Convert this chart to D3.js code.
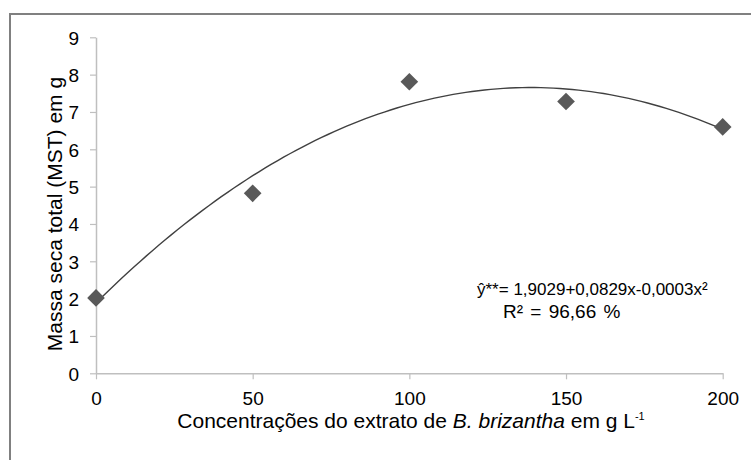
<!DOCTYPE html>
<html>
<head>
<meta charset="utf-8">
<script src="https://cdn.jsdelivr.net/npm/d3@7"></script>
<style>
  body { margin: 0; background: #fff; }
  text { font-family: "Liberation Sans", Arial, sans-serif; fill: #000; }
</style>
</head>
<body>
<svg id="chart" width="751" height="460"></svg>
<script>
// concentrations (g L-1) and total dry mass (g)
const concentrations = [0, 50, 100, 150, 200];
const massaSeca = [2.02, 4.82, 7.81, 7.28, 6.6];
const xTicks = [0, 50, 100, 150, 200];
const yTicks = [0, 1, 2, 3, 4, 5, 6, 7, 8, 9];
const equationText = "ŷ**= 1,9029+0,0829x-0,0003x²";
const r2Text = "R² = 96,66 %";

const svg = d3.select("#chart");

// outer chart frame (goes off the picture on the right and bottom)
svg.append("rect")
    .attr("x", 10).attr("y", 14)
    .attr("width", 760).attr("height", 470)
    .attr("fill", "none")
    .attr("stroke", "#808080")
    .attr("stroke-width", 2);

const x = d3.scaleLinear().domain([0, 200]).range([96, 722.7]);
const y = d3.scaleLinear().domain([0, 9]).range([373.3, 37.3]);

const xAxis = svg.append("g")
    .attr("transform", `translate(0, ${y(0)})`)
    .call(d3.axisBottom(x).tickValues(xTicks).tickSize(6).tickPadding(12).tickSizeOuter(0));

const yAxis = svg.append("g")
    .attr("transform", `translate(${x(0)}, 0)`)
    .call(d3.axisLeft(y).tickValues(yTicks).tickSize(6).tickPadding(11).tickSizeOuter(0));

[xAxis, yAxis].forEach(g => {
    g.select(".domain").attr("stroke", "#bfbfbf").attr("stroke-width", 1.5);
    g.selectAll(".tick line").attr("stroke", "#bfbfbf").attr("stroke-width", 1.2);
    g.selectAll(".tick text")
        .style("font-family", '"Liberation Sans", Arial, sans-serif')
        .style("font-size", "19px")
        .attr("fill", "#000");
});
yAxis.selectAll(".tick text").attr("dy", "0.36em");

// polynomial (2nd order) least squares trendline from the points
const fitQuadratic = (xs, ys) => {
    let s = [0, 0, 0, 0, 0], t = [0, 0, 0];
    xs.forEach((xi, i) => {
        for (let k = 0; k < 5; k++) s[k] += Math.pow(xi, k);
        for (let k = 0; k < 3; k++) t[k] += Math.pow(xi, k) * ys[i];
    });
    const A = [[s[0], s[1], s[2], t[0]], [s[1], s[2], s[3], t[1]], [s[2], s[3], s[4], t[2]]];
    for (let i = 0; i < 3; i++) {
        for (let j = i + 1; j < 3; j++) {
            const f = A[j][i] / A[i][i];
            for (let k = i; k < 4; k++) A[j][k] -= f * A[i][k];
        }
    }
    const c = [0, 0, 0];
    for (let i = 2; i >= 0; i--) {
        let v = A[i][3];
        for (let k = i + 1; k < 3; k++) v -= A[i][k] * c[k];
        c[i] = v / A[i][i];
    }
    return c;
};
const coef = fitQuadratic(concentrations, massaSeca);
const curve = d3.range(0, 201, 2).map(c => [c, coef[0] + coef[1] * c + coef[2] * c * c]);

svg.append("path")
    .datum(curve)
    .attr("fill", "none")
    .attr("stroke", "#404040")
    .attr("stroke-width", 1.4)
    .attr("d", d3.line().x(d => x(d[0])).y(d => y(d[1])));

// diamond markers
const points = concentrations.map((c, i) => ({ x: c, y: massaSeca[i] }));
svg.append("g")
    .selectAll("path")
    .data(points)
    .enter()
    .append("path")
    .attr("transform", d => `translate(${x(d.x)}, ${y(d.y)}) rotate(45)`)
    .attr("d", d3.symbol(d3.symbolSquare, 156))
    .attr("fill", "#595959");

// equation
svg.append("text")
    .attr("x", 477).attr("y", 295)
    .style("font-size", "17px")
    .text(equationText);
svg.append("text")
    .attr("x", 503).attr("y", 318)
    .style("font-size", "19px")
    .style("word-spacing", "2px")
    .text(r2Text);

// axis labels
svg.append("text")
    .attr("text-anchor", "middle")
    .attr("transform", "translate(62, 214) rotate(-90)")
    .style("font-size", "21px")
    .text("Massa seca total (MST) em g");

const xLabel = svg.append("text")
    .attr("text-anchor", "middle")
    .attr("x", 411).attr("y", 428)
    .style("font-size", "21px");
xLabel.append("tspan").text("Concentrações do extrato de ");
xLabel.append("tspan").style("font-style", "italic").text("B. brizantha");
xLabel.append("tspan").text(" em g L");
xLabel.append("tspan").attr("dy", "-8").style("font-size", "11px").text("-1");
</script>
</body>
</html>
